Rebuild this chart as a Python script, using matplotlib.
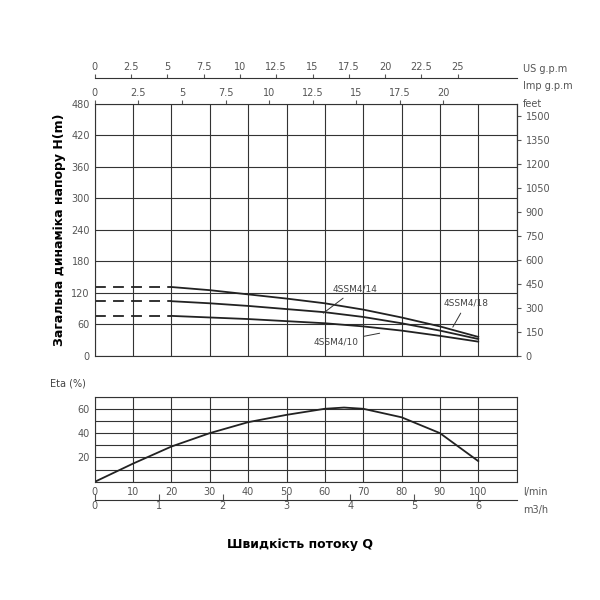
import numpy as np
import matplotlib.pyplot as plt

# flow in l/min
q_head = [20, 30, 40, 50, 60, 70, 80, 90, 100]
h_18 = [131, 125, 117, 109, 100, 88, 73, 56, 36]
h_14 = [104, 100, 95, 89, 83, 74, 62, 48, 32]
h_10 = [76, 73, 70, 66, 62, 56, 48, 38, 27]
dash_q = [0, 20]

q_eta = [0, 10, 20, 30, 40, 50, 60, 65, 70, 80, 90, 100]
eta = [0, 15, 29, 40, 49, 55, 60, 61, 60, 53, 40, 17]

fig = plt.figure(figsize=(6, 6), dpi=100)
ax = fig.add_axes([0.158, 0.407, 0.703, 0.42])
lw = 1.3
for h in (h_18, h_14, h_10):
    ax.plot(q_head, h, color='#222222', lw=lw)
    ax.plot(dash_q, [h[0], h[0]], color='#222222', lw=lw, ls=(0, (6, 4)))
ax.set_xlim(0, 110)
ax.set_ylim(0, 480)
ax.set_xticks(np.arange(0, 111, 10))
ax.set_yticks(np.arange(0, 481, 60))
ax.tick_params(axis='x', bottom=False, labelbottom=False)
ax.tick_params(axis='y', length=0, labelsize=7, colors='#555555')
ax.grid(True, color='#333333', lw=0.8)
for s in ax.spines.values():
    s.set_color('#333333')
ax.set_ylabel('Загальна динаміка напору H(m)', fontsize=9, fontweight='bold')

ap = dict(arrowstyle='-', color='#333333', lw=0.7)
ax.annotate('4SSM4/14', xy=(59, 78), xytext=(62, 122), fontsize=6.5, color='#444444', arrowprops=ap)
ax.annotate('4SSM4/18', xy=(93, 50), xytext=(91, 95), fontsize=6.5, color='#444444', arrowprops=ap)
ax.annotate('4SSM4/10', xy=(75, 44), xytext=(57, 22), fontsize=6.5, color='#444444', arrowprops=ap)

# right feet axis
feet = ax.secondary_yaxis('right', functions=(lambda m: m * 3.2808, lambda f: f / 3.2808))
feet.set_yticks(np.arange(0, 1501, 150))
feet.tick_params(labelsize=7, colors='#555555', length=3)
ax.text(1.015, 1.0, 'feet', transform=ax.transAxes, fontsize=7, color='#555555', va='center')

# Imp g.p.m axis
imp = ax.secondary_xaxis('top', functions=(lambda q: q * 0.21997, lambda g: g / 0.21997))
imp.set_xticks(np.arange(0, 21, 2.5))
imp.set_xticklabels(['0', '2.5', '5', '7.5', '10', '12.5', '15', '17.5', '20'])
imp.tick_params(labelsize=7, colors='#555555', length=3, pad=1)
imp.spines['top'].set_visible(False)
ax.text(1.015, 1.07, 'Imp g.p.m', transform=ax.transAxes, fontsize=7, color='#555555', va='center')

# US g.p.m axis
us = ax.secondary_xaxis(1.103, functions=(lambda q: q * 0.264172, lambda g: g / 0.264172))
us.set_xticks(np.arange(0, 26, 2.5))
us.set_xticklabels(['0', '2.5', '5', '7.5', '10', '12.5', '15', '17.5', '20', '22.5', '25'])
us.tick_params(labelsize=7, colors='#555555', length=3, pad=1)
us.spines['top'].set_color('#333333')
ax.text(1.015, 1.14, 'US g.p.m', transform=ax.transAxes, fontsize=7, color='#555555', va='center')

# efficiency
ax2 = fig.add_axes([0.158, 0.197, 0.703, 0.142])
ax2.plot(q_eta, eta, color='#222222', lw=lw)
ax2.set_xlim(0, 110)
ax2.set_ylim(0, 70)
ax2.set_xticks(np.arange(0, 111, 10))
ax2.set_xticklabels(['0', '10', '20', '30', '40', '50', '60', '70', '80', '90', '100', ''])
ax2.set_yticks(np.arange(0, 71, 10))
ax2.set_yticklabels(['', '', '20', '', '40', '', '60', ''])
ax2.tick_params(length=0, labelsize=7, colors='#555555')
ax2.grid(True, color='#333333', lw=0.8)
for s in ax2.spines.values():
    s.set_color('#333333')
ax2.text(-0.02, 1.12, 'Eta (%)', transform=ax2.transAxes, fontsize=7, color='#444444', ha='right')
ax2.text(1.015, -0.12, 'l/min', transform=ax2.transAxes, fontsize=7, color='#555555', va='center')

m3 = ax2.secondary_xaxis(-0.21, functions=(lambda q: q * 0.06, lambda m: m / 0.06))
m3.set_xticks(np.arange(0, 7, 1))
m3.tick_params(direction='in', length=4, labelsize=7, colors='#555555', pad=1)
m3.spines['bottom'].set_color('#333333')
ax2.text(1.015, -0.33, 'm3/h', transform=ax2.transAxes, fontsize=7, color='#555555', va='center')

fig.text(0.5, 0.087, 'Швидкість потоку Q', fontsize=9, fontweight='bold', ha='center')

fig.savefig('out.png', dpi=100, facecolor='white')
